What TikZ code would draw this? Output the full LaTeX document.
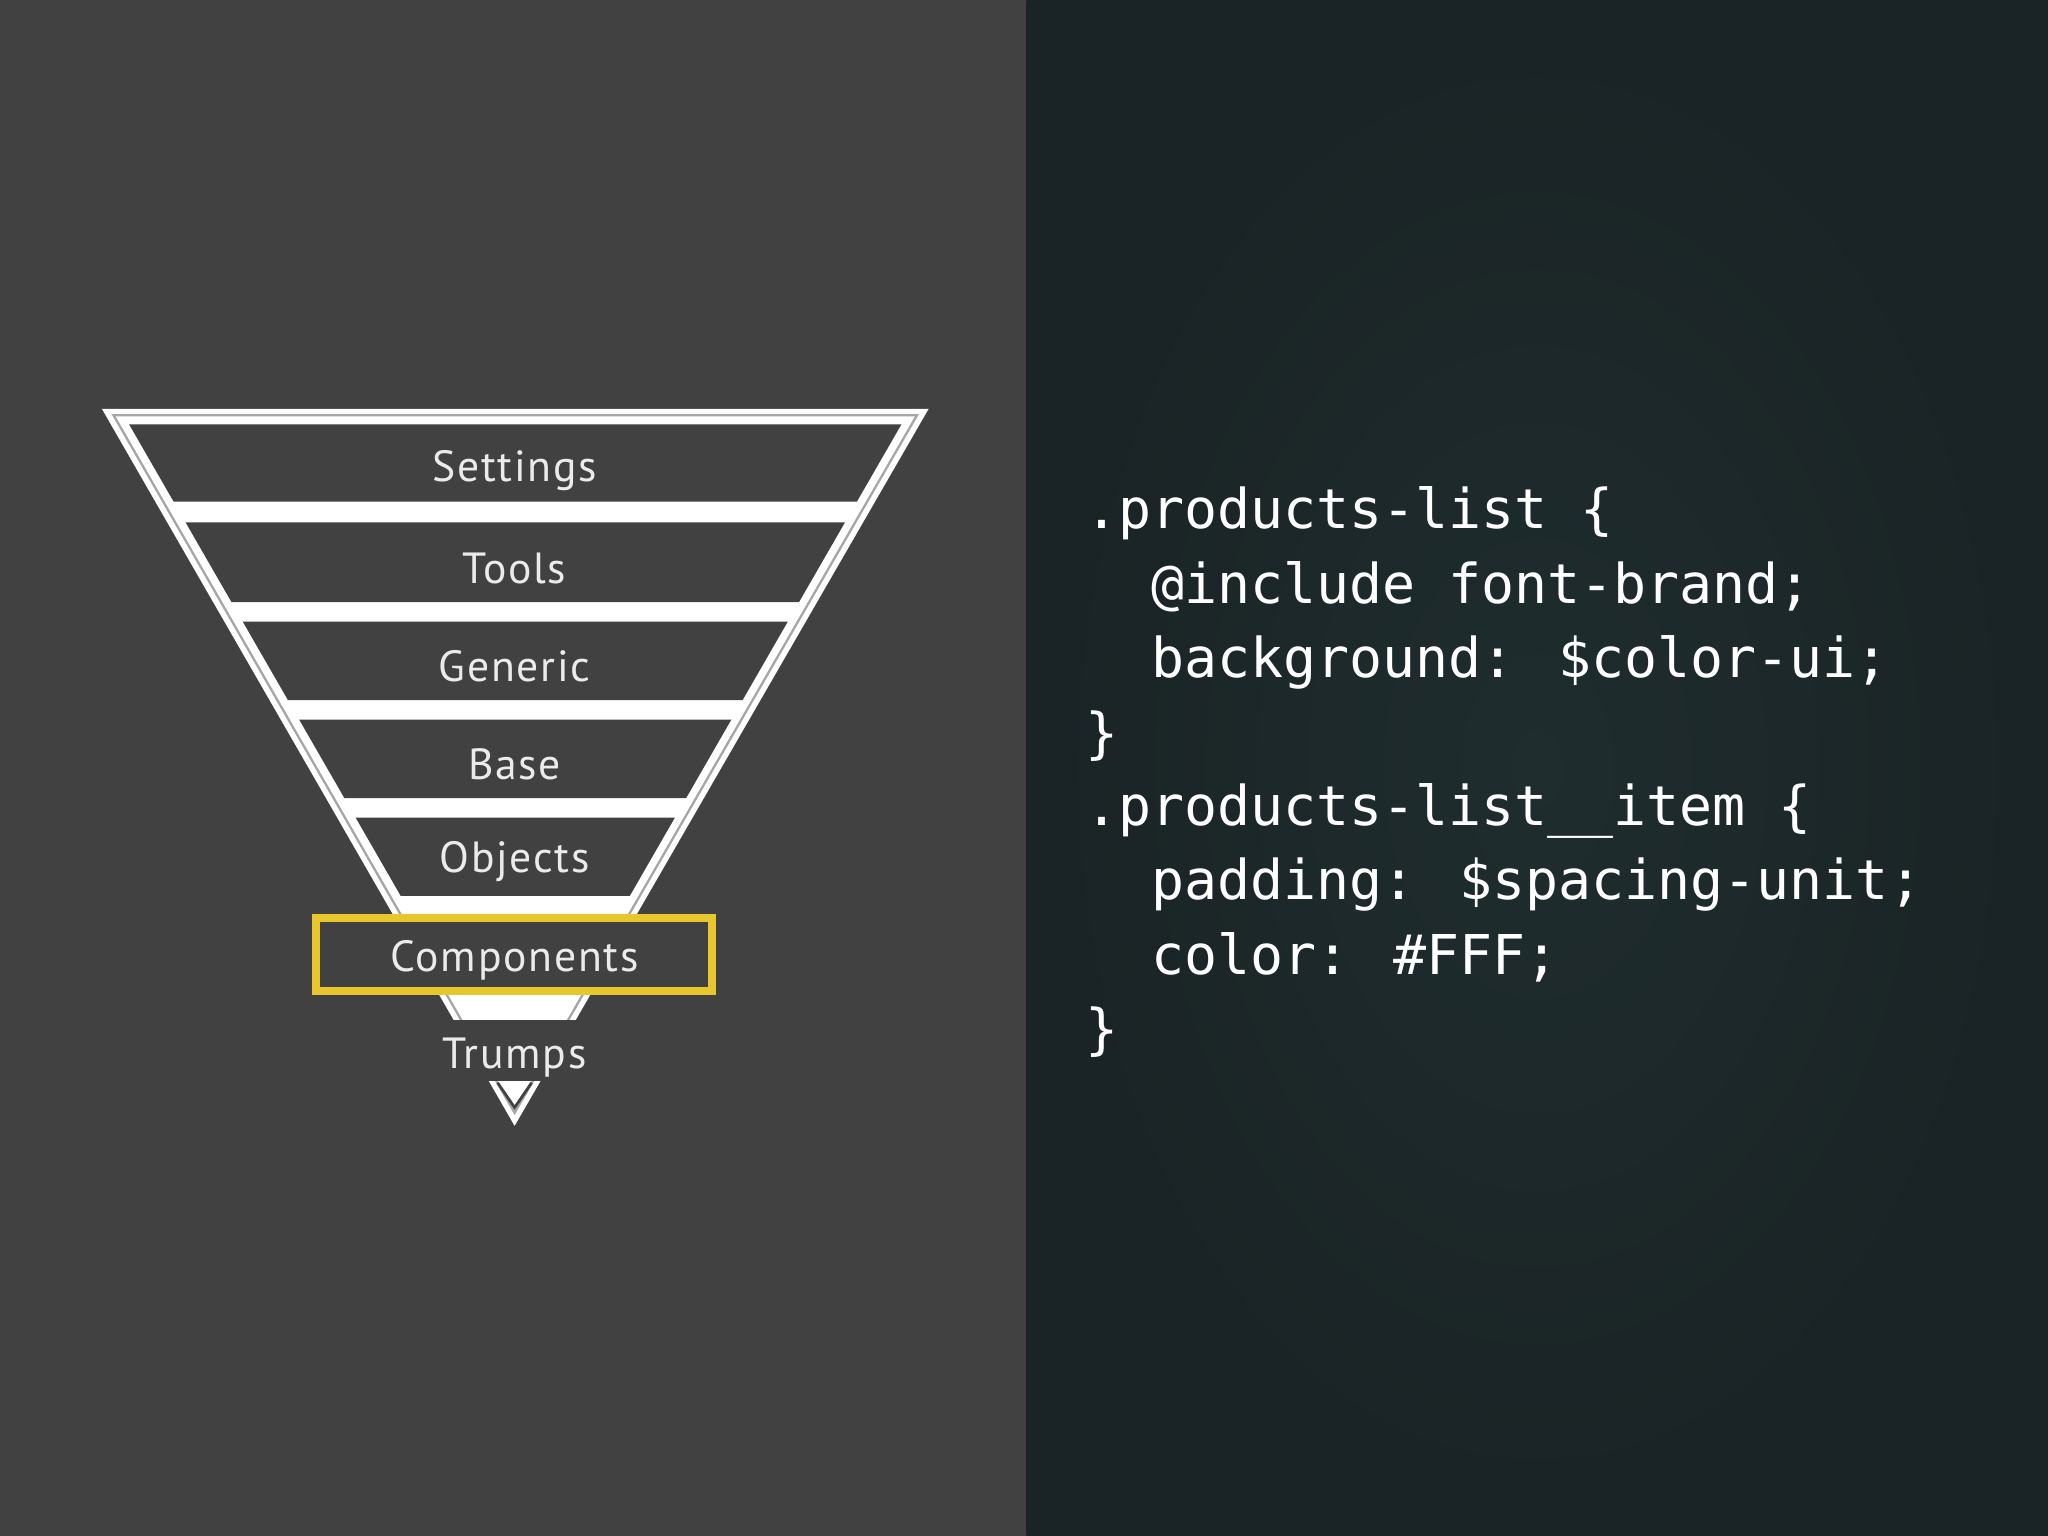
\documentclass[tikz,border=0pt]{standalone}
\usepackage{fontspec}
\setmainfont{PT Sans}
\newfontfamily\codefont{DejaVu Sans Mono}
\definecolor{leftbg}{HTML}{424142}
\definecolor{rightA}{HTML}{1F2D2E}
\definecolor{rightB}{HTML}{1A2325}
\definecolor{ybox}{HTML}{E8C62E}
\begin{document}
\begin{tikzpicture}[x=0.01cm,y=-0.01cm,
  band/.style={fill=leftbg},
  lab/.style={font=\fontsize{9.5}{11}\selectfont\addfontfeatures{LetterSpace=4}, text=white!92!black, inner sep=0},
  code/.style={font=\codefont\fontsize{11.95}{14}\selectfont, text=white, anchor=base west, inner sep=0}]
\useasboundingbox (0,0) rectangle (1568,1176);
\fill[leftbg] (0,0) rectangle (786,1176);
\shade[inner color=rightA, outer color=rightB] (786,0) rectangle (1568,1176);
% funnel
\def\xl#1{78+0.576*(#1-313)}
\def\xr#1{711-0.576*(#1-313)}
\fill[white] (78,313) -- (711,313) -- (394,862) -- cycle;
\draw[gray!70, line width=0.5pt] (87,318) -- (702,318) -- (394,852) -- cycle;
\foreach \a/\b in {325/384,400/461,476/536,551/611,626/686}{
  \fill[band] ({\xl{\a}+14},\a) -- ({\xr{\a}-14},\a) -- ({\xr{\b}-14},\b) -- ({\xl{\b}+14},\b) -- cycle;
}
\fill[leftbg] (300,781) rectangle (490,828);
\draw[leftbg, line width=0.6pt] (381,829) -- (394,848) -- (407,829);
\draw[fill=leftbg, draw=ybox, line width=1.7pt] (242,703) rectangle (545,759);
\node[lab] (settings) at (394,360) {Settings};
\node[lab] (tools) at (394,435) {Tools};
\node[lab] (generic) at (394,510) {Generic};
\node[lab] (base) at (394,585) {Base};
\node[lab] (objects) at (394,660) {Objects};
\node[lab] (components) at (394,735) {Components};
\node[lab] (trumps) at (394,810) {Trumps};
% code
\node[code] (c1) at (830,405) {.products-list \{};
\node[code] (c2) at (830,462) {\ \ @include font-brand;};
\node[code] (c3) at (830,519) {\ \ background: \$color-ui;};
\node[code] (c4) at (830,576) {\}};
\node[code] (c5) at (830,632) {.products-list\_\_item \{};
\node[code] (c6) at (830,689) {\ \ padding: \$spacing-unit;};
\node[code] (c7) at (830,746) {\ \ color: \#FFF;};
\node[code] (c8) at (830,803) {\}};
\end{tikzpicture}
\end{document}
